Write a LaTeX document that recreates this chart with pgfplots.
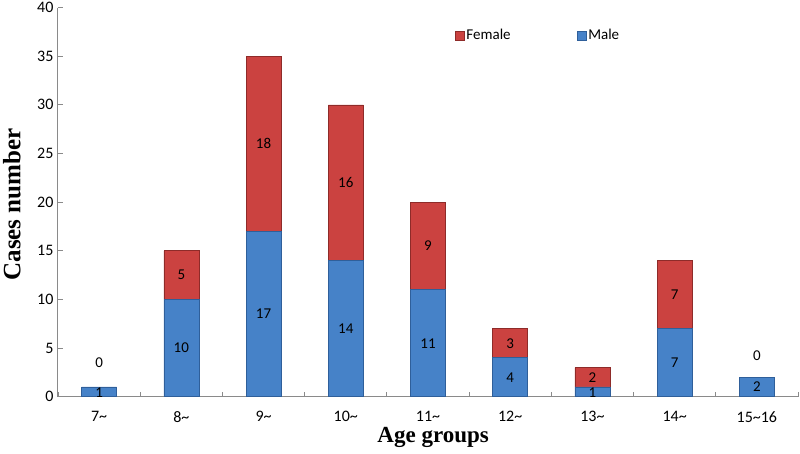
\documentclass[border=0pt]{standalone}
\usepackage{pgfplots}
\usepackage{pgfplotstable}
\pgfplotsset{compat=1.18}
\usepackage{fontspec}
\setmainfont{Carlito}
\newfontfamily\titlefont{Liberation Serif}
\definecolor{mblue}{HTML}{4682C8}
\definecolor{mbluedk}{HTML}{2F5F9A}
\definecolor{fred}{HTML}{CB4240}
\definecolor{freddk}{HTML}{8E2B29}
\definecolor{axgray}{HTML}{8A8A8A}

\pgfplotstableread{
x male female
0 1 0
1 10 5
2 17 18
3 14 16
4 11 9
5 4 3
6 1 2
7 7 7
8 2 0
}\data

\pgfplotstableread{
x y lab
0 0.4 1
1 5 10
2 8.5 17
3 7 14
4 5.5 11
5 2 4
6 0.4 1
7 3.5 7
8 1 2
0 3.45 0
1 12.5 5
2 26 18
3 22 16
4 15.5 9
5 5.5 3
6 2 2
7 10.5 7
8 4.2 0
}\labels

\begin{document}
\begin{tikzpicture}[x=1pt,y=1pt]
\useasboundingbox (0,0) rectangle (800,453);
\begin{axis}[
  at={(58pt,56.3pt)}, anchor=south west,
  scale only axis, width=740pt, height=389.2pt,
  ybar stacked, bar width=35pt,
  xmin=-0.5, xmax=8.5, ymin=0, ymax=40,
  ytick={0,5,...,40},
  xtick={0,...,8},
  xticklabels={7\textasciitilde,8\textasciitilde,9\textasciitilde,10\textasciitilde,11\textasciitilde,12\textasciitilde,13\textasciitilde,14\textasciitilde,15\textasciitilde16},
  minor xtick={-0.5,0.5,...,8.5},
  major x tick style={draw=none},
  tick align=inside,
  major tick length=5pt, minor tick length=5pt,
  tick style={axgray, line width=0.8pt},
  axis x line*=bottom, axis y line*=left,
  axis line style={axgray, line width=1pt},
  /pgf/number format/assume math mode=true,
  tick label style={font=\fontsize{16}{16}\selectfont, black},
  xticklabel style={yshift=-11pt},
  yticklabel style={xshift=-1pt},
  ylabel={\titlefont\bfseries Cases number},
  ylabel style={at={(axis description cs:-0.0625,0.494)}, anchor=center, font=\fontsize{25}{25}\selectfont},
  xlabel={\titlefont\bfseries Age groups},
  xlabel style={at={(axis description cs:0.507,-0.105)}, anchor=center, font=\fontsize{23}{23}\selectfont},
  legend style={at={(axis description cs:0.532,0.928)}, anchor=west, draw=none, fill=none,
    font=\fontsize{15}{15}\selectfont, legend columns=2,
    /tikz/every even column/.append style={column sep=64pt}},
  reverse legend,
  legend image code/.code={\draw[#1] (0pt,-4.5pt) rectangle (9pt,4.5pt);},
]
\addplot[fill=mblue, draw=mbluedk, line width=0.6pt] table[x=x,y=male]{\data};
\addlegendentry{Male}
\addplot[fill=fred, draw=freddk, line width=0.6pt] table[x=x,y=female]{\data};
\addlegendentry{Female}
\end{axis}
\begin{axis}[
  at={(58pt,56.3pt)}, anchor=south west,
  scale only axis, width=740pt, height=389.2pt,
  xmin=-0.5, xmax=8.5, ymin=0, ymax=40,
  hide axis, clip=false,
]
\addplot[draw=none, mark=none, nodes near coords, point meta=explicit symbolic,
  every node near coord/.append style={anchor=center, font=\fontsize{15}{15}\selectfont, black}]
  table[x=x,y=y,meta=lab]{\labels};
\end{axis}
\end{tikzpicture}
\end{document}
